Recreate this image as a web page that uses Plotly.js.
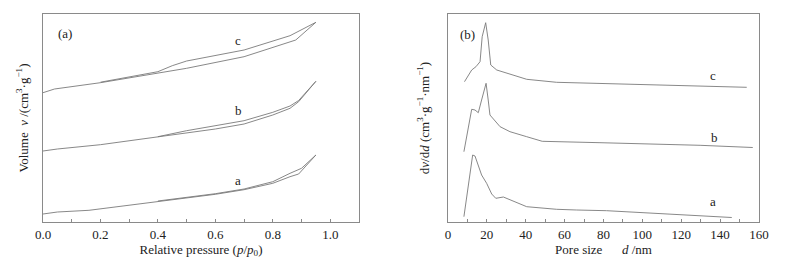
<!DOCTYPE html>
<html><head><meta charset="utf-8">
<script src="https://cdn.plot.ly/plotly-3.0.1.min.js"></script>
<style>html,body{margin:0;padding:0;background:#fff}#chart{width:801px;height:261px}</style>
</head><body><div id="chart"></div>
<script>
// (a) N2 adsorption-desorption isotherms (arbitrary offset units)
const a_ads_x = [0, 0.05, 0.16, 0.4, 0.6, 0.7, 0.8, 0.86, 0.89, 0.95];
const a_ads_y = [8, 10, 11.7, 20.7, 27.7, 32.3, 38.7, 45.3, 48, 67];
const a_des_x = [0.95, 0.9, 0.86, 0.8, 0.7, 0.6, 0.4];
const a_des_y = [67, 53.7, 48.7, 40.3, 33, 28.3, 21];
const b_ads_x = [0, 0.05, 0.2, 0.4, 0.5, 0.6, 0.7, 0.8, 0.86, 0.89, 0.95];
const b_ads_y = [71, 73, 77.3, 85.3, 88.7, 93, 98, 107, 113.7, 120.3, 140.7];
const b_des_x = [0.95, 0.89, 0.86, 0.8, 0.7, 0.6, 0.5, 0.4];
const b_des_y = [140.7, 121.5, 116, 109.7, 101.3, 96.3, 91.3, 85.3];
const c_ads_x = [0, 0.04, 0.2, 0.4, 0.5, 0.7, 0.88, 0.95];
const c_ads_y = [129.3, 133, 139.3, 148.7, 153.7, 165.3, 182, 199.7];
const c_des_x = [0.95, 0.86, 0.7, 0.5, 0.45, 0.4, 0.2];
const c_des_y = [199.7, 186.3, 172, 161, 156.3, 150.3, 139.8];
// (b) pore size distributions
const pa_x = [8.2, 12.7, 13.9, 17.3, 19.9, 22.5, 24.6, 28.5, 40.5, 55.9, 66.2, 81.6, 146];
const pa_y = [5.3, 67, 66, 47, 38.7, 28, 23.7, 25, 15.3, 12.7, 12, 11.3, 4.5];
const pb_x = [8.2, 10.5, 12.2, 13.9, 15.6, 17.3, 19.6, 20.7, 21.6, 26.8, 31.9, 40.5, 48.5, 78.2, 129.7, 156.8];
const pb_y = [70.3, 97, 112.7, 112, 109.3, 122, 138.7, 122, 107, 95.3, 90.3, 85.3, 80.7, 79.3, 76.7, 74.5];
const pc_x = [8.5, 12.2, 14.4, 16.5, 17.6, 19.4, 20.7, 22, 25.1, 40.5, 55.9, 78.2, 129.7, 153.7];
const pc_y = [140.3, 152, 155.3, 160.3, 185.3, 199.3, 182, 157, 152, 142.7, 139.7, 138.7, 136, 134.7];
const seriesLabels = ['a', 'b', 'c'];

const lc = '#7a7a7a';
const fnt = {family: "Liberation Serif", size: 13, color: '#222'};
function tr(x, y, xa, ya) {
  return {x: x, y: y, xaxis: xa, yaxis: ya, mode: 'lines', line: {color: lc, width: 0.9}, showlegend: false, hoverinfo: 'skip'};
}
const data = [
  tr(a_ads_x, a_ads_y, 'x', 'y'), tr(a_des_x, a_des_y, 'x', 'y'),
  tr(b_ads_x, b_ads_y, 'x', 'y'), tr(b_des_x, b_des_y, 'x', 'y'),
  tr(c_ads_x, c_ads_y, 'x', 'y'), tr(c_des_x, c_des_y, 'x', 'y'),
  tr(pa_x, pa_y, 'x2', 'y2'), tr(pb_x, pb_y, 'x2', 'y2'), tr(pc_x, pc_y, 'x2', 'y2')
];
const axBase = {showline: true, mirror: true, linecolor: '#8a8a8a', linewidth: 1, showgrid: false, zeroline: false};
const layout = {
  width: 801, height: 261,
  margin: {l: 43, r: 42, t: 14, b: 39},
  paper_bgcolor: '#fff', plot_bgcolor: '#fff',
  font: fnt,
  xaxis: Object.assign({}, axBase, {domain: [0, 0.4413], range: [0, 1.1], dtick: 0.2, tickformat: '.1f',
    ticks: 'inside', ticklen: 3, tickcolor: '#8a8a8a',
    minor: {dtick: 0.1, ticks: 'inside', ticklen: 3, tickcolor: '#8a8a8a'},
    title: {text: 'Relative pressure (<i>p</i>/<i>p</i><sub>0</sub>)', standoff: 2, font: fnt}}),
  yaxis: Object.assign({}, axBase, {domain: [0, 1], range: [0, 208], showticklabels: false, ticks: '',
    title: {text: 'Volume  <i>v</i> /(cm<sup>3</sup>·g<sup>−1</sup>)', standoff: 10, font: fnt}}),
  xaxis2: Object.assign({}, axBase, {domain: [0.5656, 1], range: [0, 160], dtick: 20,
    ticks: 'inside', ticklen: 3, tickcolor: '#8a8a8a', anchor: 'y2',
    minor: {dtick: 10, ticks: 'inside', ticklen: 3, tickcolor: '#8a8a8a'},
    title: {text: 'Pore size      <i>d</i> /nm', standoff: 2, font: fnt}}),
  yaxis2: Object.assign({}, axBase, {domain: [0, 1], range: [0, 208], showticklabels: false, ticks: '', anchor: 'x2',
    title: {text: 'd<i>v</i>/d<i>d</i> (cm<sup>3</sup>·g<sup>−1</sup>·nm<sup>−1</sup>)', standoff: 14, font: fnt}}),
  annotations: [
    {xref: 'x', yref: 'y', x: 0.075, y: 189, text: '(a)', showarrow: false, font: fnt},
    {xref: 'x', yref: 'y', x: 0.68, y: 42, text: seriesLabels[0], showarrow: false, font: fnt},
    {xref: 'x', yref: 'y', x: 0.68, y: 112, text: seriesLabels[1], showarrow: false, font: fnt},
    {xref: 'x', yref: 'y', x: 0.68, y: 182, text: seriesLabels[2], showarrow: false, font: fnt},
    {xref: 'x2', yref: 'y2', x: 10, y: 188, text: '(b)', showarrow: false, font: fnt},
    {xref: 'x2', yref: 'y2', x: 136.5, y: 20.3, text: seriesLabels[0], showarrow: false, font: fnt},
    {xref: 'x2', yref: 'y2', x: 137, y: 84.7, text: seriesLabels[1], showarrow: false, font: fnt},
    {xref: 'x2', yref: 'y2', x: 136.5, y: 147, text: seriesLabels[2], showarrow: false, font: fnt}
  ]
};
Plotly.newPlot('chart', data, layout, {displayModeBar: false});
</script></body></html>
